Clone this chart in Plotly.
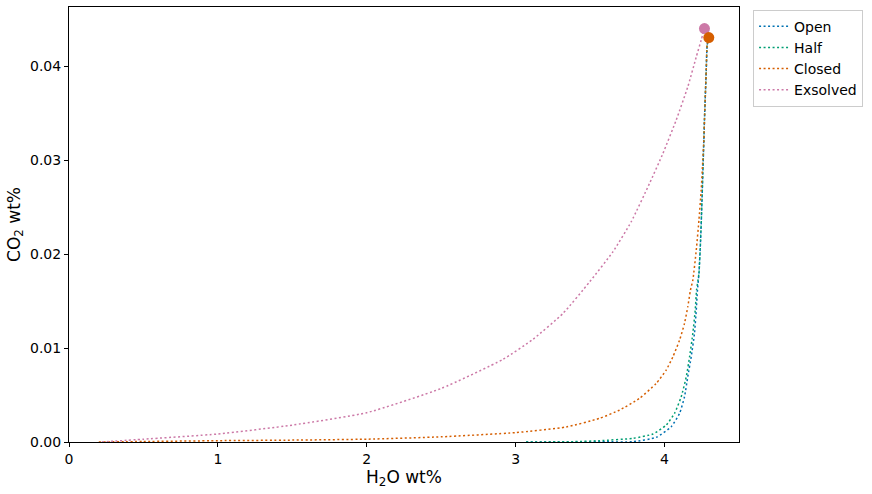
import plotly.graph_objects as go

# degassing paths (H2O wt%, CO2 wt%)
open_h2o = [3.07, 3.4, 3.6, 3.787, 3.944, 4.045, 4.101, 4.134, 4.156, 4.179,
            4.201, 4.213, 4.221, 4.231, 4.242, 4.250, 4.257, 4.264, 4.268,
            4.280, 4.286, 4.297]
open_co2 = [0.0, 0.00001, 0.00002, 0.00003, 0.0005, 0.00163, 0.00305, 0.00482,
            0.00695, 0.00907, 0.01156, 0.01404, 0.01617, 0.01795, 0.0215,
            0.02503, 0.02858, 0.03213, 0.03426, 0.03957, 0.04223, 0.04305]

half_h2o = [3.07, 3.4, 3.564, 3.787, 3.922, 4.011, 4.067, 4.112, 4.146, 4.168,
            4.190, 4.206, 4.215, 4.231, 4.242, 4.250, 4.257, 4.264, 4.268,
            4.280, 4.286, 4.297]
half_co2 = [0.0, 0.00004, 0.00014, 0.00039, 0.00085, 0.0018, 0.00305, 0.00482,
            0.00695, 0.00907, 0.01156, 0.01404, 0.01617, 0.01795, 0.0215,
            0.02503, 0.02858, 0.03213, 0.03426, 0.03957, 0.04223, 0.04305]

closed_h2o = [0.2, 0.5, 1.0, 1.5, 2.0, 2.5, 3.0, 3.34, 3.564, 3.698, 3.832,
              3.944, 4.011, 4.056, 4.101, 4.134, 4.156, 4.174, 4.190, 4.213,
              4.231, 4.246, 4.257, 4.264, 4.268, 4.280, 4.286, 4.297]
closed_co2 = [0.0, 0.00005, 0.00014, 0.0002, 0.0003, 0.00055, 0.001, 0.0016,
              0.00252, 0.0034, 0.00465, 0.00624, 0.00766, 0.00907, 0.01085,
              0.01263, 0.01439, 0.01617, 0.01723, 0.02043, 0.02362, 0.02681,
              0.03, 0.03213, 0.03426, 0.03957, 0.04223, 0.04305]

exsolved_h2o = [0.22, 0.5, 1.0, 1.5, 2.0, 2.5, 2.915, 3.116, 3.318, 3.497,
                3.653, 3.776, 3.899, 3.989, 4.078, 4.156, 4.213, 4.246, 4.268]
exsolved_co2 = [0.0, 0.0003, 0.00085, 0.0018, 0.00312, 0.0057, 0.0088, 0.01093,
                0.01369, 0.01705, 0.02024, 0.02344, 0.02752, 0.03071, 0.03426,
                0.0378, 0.04099, 0.04277, 0.04401]

# starting compositions
start_h2o = [4.268, 4.297]
start_co2 = [0.04401, 0.04305]

names = ["Open", "Half", "Closed", "Exsolved"]
colors = ["#0072B2", "#009E73", "#D55E00", "#CC79A7"]
paths = [(open_h2o, open_co2), (half_h2o, half_co2),
         (closed_h2o, closed_co2), (exsolved_h2o, exsolved_co2)]

fig = go.Figure()
for name, color, (xs, ys) in zip(names, colors, paths):
    fig.add_trace(go.Scatter(
        x=xs, y=ys, name=name, mode="lines",
        line=dict(color=color, width=1.5, dash="2px,2.5px", shape="spline",
                  smoothing=0.5)))

fig.add_trace(go.Scatter(
    x=start_h2o, y=start_co2, mode="markers", showlegend=False,
    marker=dict(size=11, color=["#CC79A7", "#D55E00"])))

axis = dict(showline=True, linecolor="black", linewidth=1, mirror=True,
            ticks="outside", ticklen=4, tickcolor="black", showgrid=False,
            zeroline=False, tickfont=dict(size=14, color="black"))

fig.update_layout(
    width=872, height=494,
    margin=dict(l=69, r=133, t=7, b=52, autoexpand=False),
    paper_bgcolor="white", plot_bgcolor="white",
    font=dict(family="DejaVu Sans", color="black"),
    xaxis=dict(range=[0, 4.5], tickvals=[0, 1, 2, 3, 4],
               title=dict(text="H<sub>2</sub>O wt%", font=dict(size=17),
                          standoff=2), **axis),
    yaxis=dict(range=[0, 0.0463], tickvals=[0, 0.01, 0.02, 0.03, 0.04],
               tickformat=".2f",
               title=dict(text="CO<sub>2</sub> wt%", font=dict(size=17),
                          standoff=5), **axis),
    legend=dict(x=1.021, y=0.994, xanchor="left", yanchor="top",
                bordercolor="#cccccc", borderwidth=1, bgcolor="white",
                itemwidth=30, font=dict(size=14)),
)

# page body has a default 8px margin; drop it so the figure sits at 0,0
fig.write_html("out.html", config={"displayModeBar": False},
               post_script="document.body.style.margin='0';")
